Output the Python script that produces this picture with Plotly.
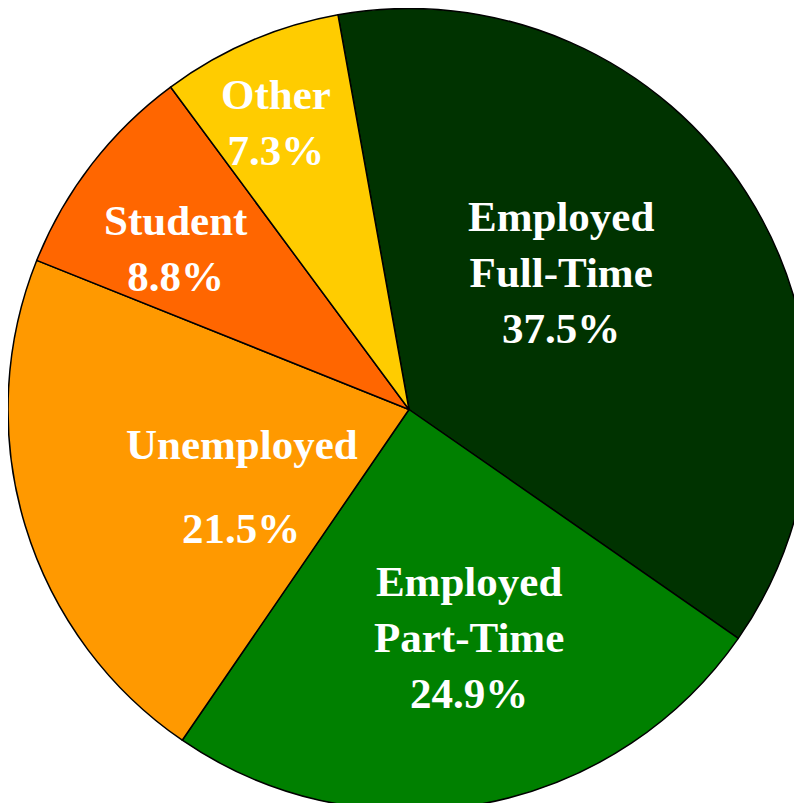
import plotly.graph_objects as go

categories = ["Employed Full-Time", "Employed Part-Time", "Unemployed", "Student", "Other"]
values = [37.5, 24.9, 21.5, 8.8, 7.3]
colors = ["#003300", "#008000", "#FF9900", "#FF6600", "#FFCC00"]

fig = go.Figure(go.Pie(
    labels=categories,
    values=values,
    sort=False,
    direction="clockwise",
    rotation=-10.2,
    marker=dict(colors=colors, line=dict(color="black", width=1.5)),
    textinfo="none",
    hoverinfo="label+percent",
    domain=dict(x=[0, 1], y=[0, 1]),
    showlegend=False,
))

font = dict(family="Liberation Serif, Times New Roman, serif", size=43, color="white")
label_texts = [
    "<b>Employed<br>Full-Time<br>%.1f%%</b>" % values[0],
    "<b>Employed<br>Part-Time<br>%.1f%%</b>" % values[1],
    "<b>Unemployed</b>",
    "<b>%.1f%%</b>" % values[2],
    "<b>Student<br>%.1f%%</b>" % values[3],
    "<b>Other<br>%.1f%%</b>" % values[4],
]
label_pos = [(0.6895, 0.6710), (0.5754, 0.2165), (0.2918, 0.4558),
             (0.2905, 0.3524), (0.2095, 0.7010), (0.3342, 0.8580)]
for t, (x, y) in zip(label_texts, label_pos):
    fig.add_annotation(text=t, x=x, y=y, xref="paper", yref="paper",
                       showarrow=False, font=font, xanchor="center", yanchor="middle")

fig.update_layout(width=802, height=803, margin=dict(l=0, r=0, t=0, b=0),
                  paper_bgcolor="white", plot_bgcolor="white")
fig.write_html("out.html")
